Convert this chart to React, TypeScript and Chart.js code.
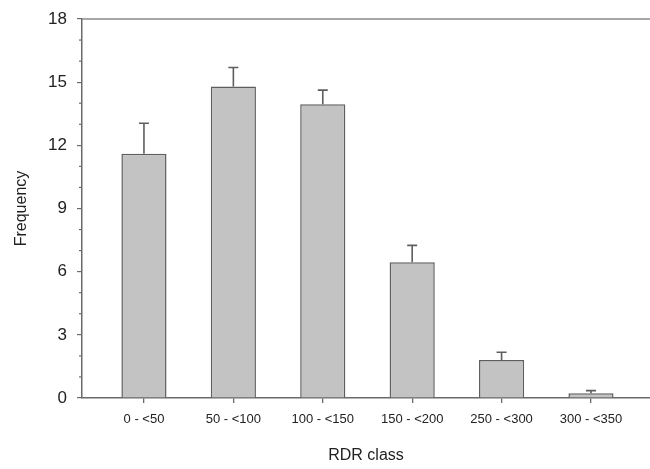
import React, { useEffect, useRef } from "react";
import { Chart, registerables } from "chart.js";

Chart.register(...registerables);

const categories = ["0 - <50", "50 - <100", "100 - <150", "150 - <200", "250 - <300", "300 - <350"];
const frequency = [11.6, 14.8, 13.95, 6.45, 1.8, 0.22];
const errorUpper = [13.05, 15.7, 14.62, 7.25, 2.17, 0.35];
const yTickValues = [0, 3, 6, 9, 12, 15, 18];

const FONT = "'Liberation Sans', Arial, sans-serif";
const AXIS = "#6a6a6a";

const errorBarPlugin = {
  id: "errorBars",
  afterDatasetsDraw(chart: any) {
    const { ctx, scales } = chart;
    const meta = chart.getDatasetMeta(0);
    ctx.save();
    ctx.strokeStyle = "#5e5e5e";
    ctx.lineWidth = 1.6;
    meta.data.forEach((bar: any, i: number) => {
      const x = bar.x;
      const yTop = scales.y.getPixelForValue(errorUpper[i]);
      const yBar = scales.y.getPixelForValue(frequency[i]);
      ctx.beginPath();
      ctx.moveTo(x, yBar);
      ctx.lineTo(x, yTop);
      ctx.moveTo(x - 5, yTop);
      ctx.lineTo(x + 5, yTop);
      ctx.stroke();
    });
    ctx.restore();
  },
  afterDraw(chart: any) {
    const { ctx, chartArea, scales } = chart;
    ctx.save();
    ctx.strokeStyle = "#8a8a8a";
    ctx.lineWidth = 1.5;
    ctx.beginPath();
    ctx.moveTo(chartArea.left, chartArea.top);
    ctx.lineTo(chart.width, chartArea.top);
    ctx.stroke();
    ctx.strokeStyle = AXIS;
    ctx.lineWidth = 1.2;
    for (let v = 0; v <= 18; v++) {
      if (yTickValues.includes(v)) continue;
      const y = scales.y.getPixelForValue(v);
      ctx.beginPath();
      ctx.moveTo(chartArea.left - 3, y);
      ctx.lineTo(chartArea.left, y);
      ctx.stroke();
    }
    ctx.restore();
  },
};

export default function App() {
  const ref = useRef<HTMLCanvasElement | null>(null);

  useEffect(() => {
    if (!ref.current) return;
    const chart = new Chart(ref.current, {
      type: "bar",
      data: {
        datasets: [
          {
            data: frequency.map((v, i) => ({ x: i + 1, y: v })),
            backgroundColor: "#c3c3c3",
            borderColor: "#5e5e5e",
            borderWidth: 1.5,
            categoryPercentage: 1,
            barPercentage: 0.505,
          },
        ],
      },
      options: {
        responsive: false,
        animation: false,
        layout: { padding: { top: 19, left: 0, right: 0, bottom: 0 } },
        plugins: { legend: { display: false }, tooltip: { enabled: false } },
        scales: {
          x: {
            type: "linear",
            offset: false,
            min: 0.307,
            max: 6.66,
            afterBuildTicks: (scale: any) => {
              scale.ticks = categories.map((_, i) => ({ value: i + 1 }));
            },
            afterFit: (scale: any) => {
              scale.height = 71;
              scale.paddingLeft = 0;
              scale.paddingRight = 0;
            },
            grid: {
              offset: false,
              drawOnChartArea: false,
              drawTicks: true,
              tickLength: 5,
              color: AXIS,
              lineWidth: 1.3,
            },
            border: { color: AXIS, width: 1.5 },
            ticks: {
              autoSkip: false,
              maxRotation: 0,
              padding: 9,
              color: "#222",
              font: { family: FONT, size: 13 },
              callback: (v: any) => categories[Math.round(Number(v)) - 1] ?? "",
            },
            title: {
              display: true,
              text: "RDR class",
              color: "#222",
              font: { family: FONT, size: 16 },
              padding: { top: 0, bottom: 4 },
            },
          },
          y: {
            min: 0,
            max: 18,
            afterBuildTicks: (scale: any) => {
              const t = [];
              for (let v = 0; v <= 18; v++) t.push({ value: v });
              scale.ticks = t;
            },
            afterFit: (scale: any) => {
              scale.width = 82;
              scale.paddingTop = 0;
              scale.paddingBottom = 0;
            },
            grid: {
              drawOnChartArea: false,
              drawTicks: true,
              tickLength: 5,
              color: (c: any) =>
                c.tick && !yTickValues.includes(Number(c.tick.value)) ? "rgba(0,0,0,0)" : AXIS,
              lineWidth: 1.2,
            },
            border: { color: AXIS, width: 1.5 },
            ticks: {
              autoSkip: false,
              padding: 10,
              color: "#222",
              font: { family: FONT, size: 17 },
              callback: (v: any) => (yTickValues.includes(Number(v)) ? String(v) : ""),
            },
            title: {
              display: true,
              text: "Frequency",
              color: "#222",
              font: { family: FONT, size: 16 },
              padding: { top: 12, bottom: 0 },
            },
          },
        },
      },
      plugins: [errorBarPlugin],
    });
    return () => chart.destroy();
  }, []);

  return (
    <canvas
      ref={ref}
      width={650}
      height={469}
      style={{ display: "block", position: "fixed", left: 0, top: 0 }}
    />
  );
}
